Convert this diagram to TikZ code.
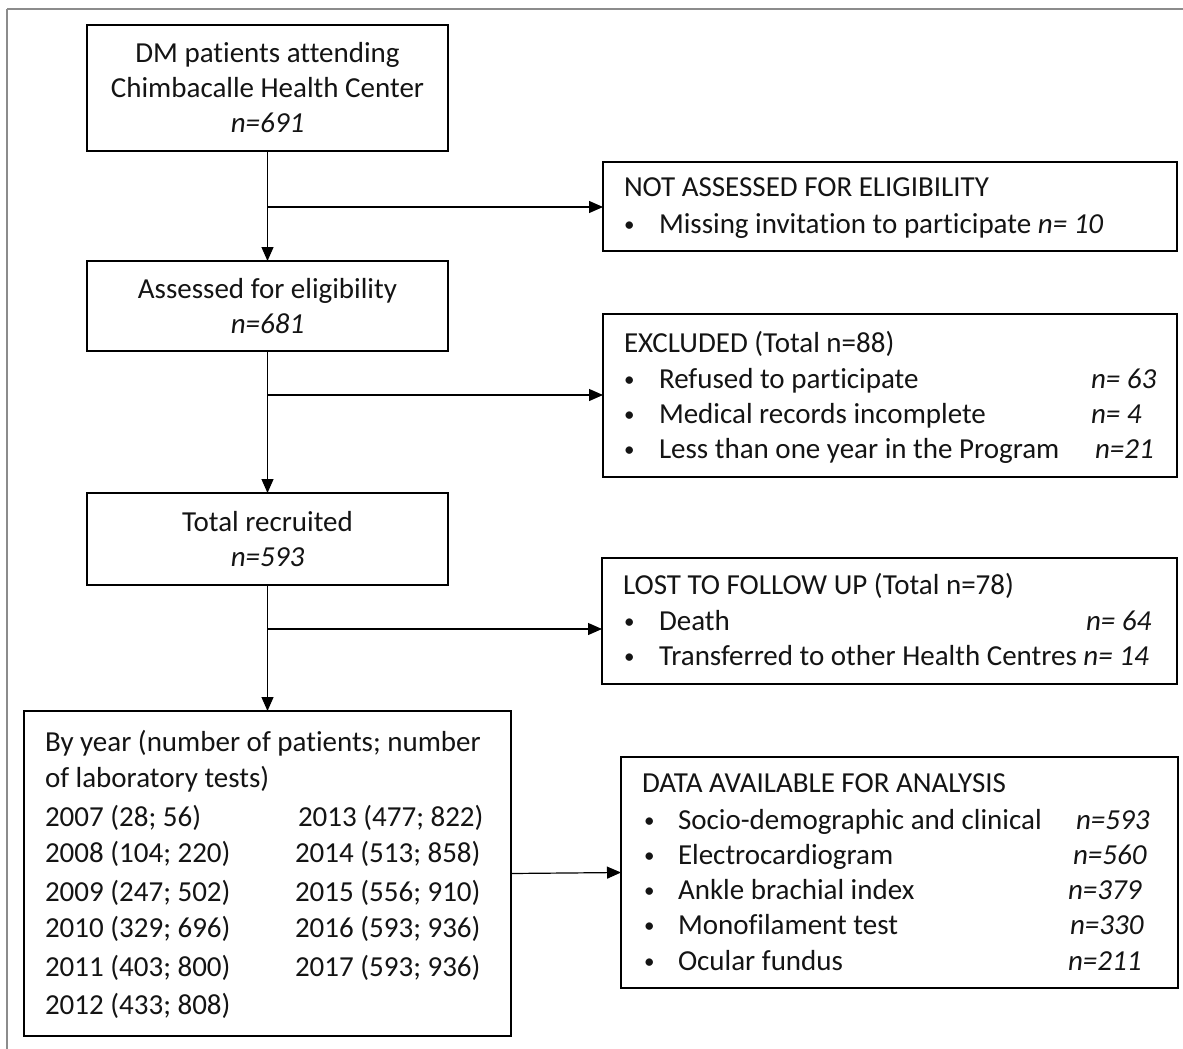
\documentclass[tikz,border=0pt]{standalone}
\usepackage{fontspec}
\setmainfont{Carlito}[Ligatures=NoCommon]
\usetikzlibrary{arrows.meta,calc}
\definecolor{framegray}{RGB}{140,140,140}
\definecolor{ink}{RGB}{20,20,20}
\newcommand\myfs{\fontsize{29}{35}\selectfont}
\newcommand\mybul{\raisebox{2pt}{\fontsize{21}{21}\selectfont\textbullet}}
\begin{document}
\begin{tikzpicture}[x=1pt,y=-1pt,
  box/.style={draw=black, line width=2.2pt, inner sep=0pt, outer sep=0pt, text=ink},
  cbox/.style={box, align=center, font=\myfs},
  txt/.style={anchor=base west, inner sep=0pt, outer sep=0pt, font=\myfs, text=ink},
  conn/.style={line width=1.2pt, -{Triangle[length=14pt,width=12pt]}}]
\useasboundingbox (0,0) rectangle (1183,1049);
\fill[white] (0,0) rectangle (1183,1049);
% outer frame (top and left edges only)
\draw[framegray, line width=2.5pt] (7,9) -- (1183,9);
\draw[framegray, line width=1.5pt] (7,9) -- (7,1049);

% main column
\node[cbox, minimum width=361pt, minimum height=126pt] (b1) at (267.5,88)
  {DM patients attending\\Chimbacalle Health Center\\\textit{n=691}};
\node[cbox, minimum width=361pt, minimum height=90pt] (b3) at (267.5,306)
  {Assessed for eligibility\\\textit{n=681}};
\node[cbox, minimum width=361pt, minimum height=92pt] (b5) at (267.5,539)
  {Total recruited\\\textit{n=593}};
\node[box, minimum width=487pt, minimum height=325pt] (by) at (267.5,873.5) {};

% side boxes
\node[box, minimum width=574pt, minimum height=89pt] (b2) at (890,206.5) {};
\node[box, minimum width=574pt, minimum height=163pt] (ex) at (890,395.5) {};
\node[box, minimum width=575pt, minimum height=126pt] (lost) at (889.5,621) {};
\node[box, minimum width=557pt, minimum height=231pt] (data) at (899.5,872.5) {};

% texts: not assessed
\node[txt] (t21) at (624,196) {NOT ASSESSED FOR ELIGIBILITY};
\node[txt] (t22) at (624,233) {\mybul};
\node[txt] (t23) at (659,233) {Missing invitation to participate \textit{n= 10}};

% texts: excluded
\node[txt] (t41) at (624,352) {EXCLUDED (Total n=88)};
\node[txt] (t42) at (624,388) {\mybul};
\node[txt] (t43) at (659,388) {Refused to participate};
\node[txt] (t44) at (1091,388) {\textit{n= 63}};
\node[txt] (t45) at (624,423) {\mybul};
\node[txt] (t46) at (659,423) {Medical records incomplete};
\node[txt] (t47) at (1091,423) {\textit{n= 4}};
\node[txt] (t48) at (624,458) {\mybul};
\node[txt] (t49) at (659,458) {Less than one year in the Program};
\node[txt] (t40) at (1095,458) {\textit{n=21}};

% texts: lost to follow up
\node[txt] (t61) at (623,594) {LOST TO FOLLOW UP (Total n=78)};
\node[txt] (t62) at (624,630) {\mybul};
\node[txt] (t63) at (659,630) {Death};
\node[txt] (t64) at (1086,630) {\textit{n= 64}};
\node[txt] (t65) at (624,665) {\mybul};
\node[txt] (t66) at (659,665) {Transferred to other Health Centres \textit{n= 14}};

% texts: by year
\node[txt] (y0) at (45,751) {By year (number of patients; number};
\node[txt] (y1) at (45,787) {of laboratory tests)};
\node[txt] (y07) at (45,826) {2007 (28; 56)};
\node[txt] (y08) at (45,862) {2008 (104; 220)};
\node[txt] (y09) at (45,901) {2009 (247; 502)};
\node[txt] (y10) at (45,937) {2010 (329; 696)};
\node[txt] (y11) at (45,976) {2011 (403; 800)};
\node[txt] (y12) at (45,1014) {2012 (433; 808)};
\node[txt] (y13) at (298,826) {2013 (477; 822)};
\node[txt] (y14) at (295,862) {2014 (513; 858)};
\node[txt] (y15) at (295,901) {2015 (556; 910)};
\node[txt] (y16) at (295,937) {2016 (593; 936)};
\node[txt] (y17) at (295,976) {2017 (593; 936)};

% texts: data available
\node[txt] (d0) at (642,792) {DATA AVAILABLE FOR ANALYSIS};
\node[txt] (d1b) at (644,829) {\mybul};
\node[txt] (d1) at (678,829) {Socio-demographic and clinical};
\node[txt] (d1n) at (1076,829) {\textit{n=593}};
\node[txt] (d2b) at (644,864) {\mybul};
\node[txt] (d2) at (678,864) {Electrocardiogram};
\node[txt] (d2n) at (1073,864) {\textit{n=560}};
\node[txt] (d3b) at (644,899) {\mybul};
\node[txt] (d3) at (678,899) {Ankle brachial index};
\node[txt] (d3n) at (1068,899) {\textit{n=379}};
\node[txt] (d4b) at (644,934) {\mybul};
\node[txt] (d4) at (678,934) {Monofilament test};
\node[txt] (d4n) at (1070,934) {\textit{n=330}};
\node[txt] (d5b) at (644,970) {\mybul};
\node[txt] (d5) at (678,970) {Ocular fundus};
\node[txt] (d5n) at (1068,970) {\textit{n=211}};

% connectors
\coordinate (j1) at (267.5,207);
\coordinate (j2) at (267.5,395);
\coordinate (j3) at (267.5,629);
\draw[conn] (b1.south) -- (b3.north);
\draw[conn] (b3.south) -- (b5.north);
\draw[conn] (b5.south) -- (by.north);
\draw[conn] (j1) -- (j1 -| b2.west);
\draw[conn] (j2) -- (j2 -| ex.west);
\draw[conn] (j3) -- (j3 -| lost.west);
\draw[conn] (by.east) -- (data.west);
\end{tikzpicture}
\end{document}
